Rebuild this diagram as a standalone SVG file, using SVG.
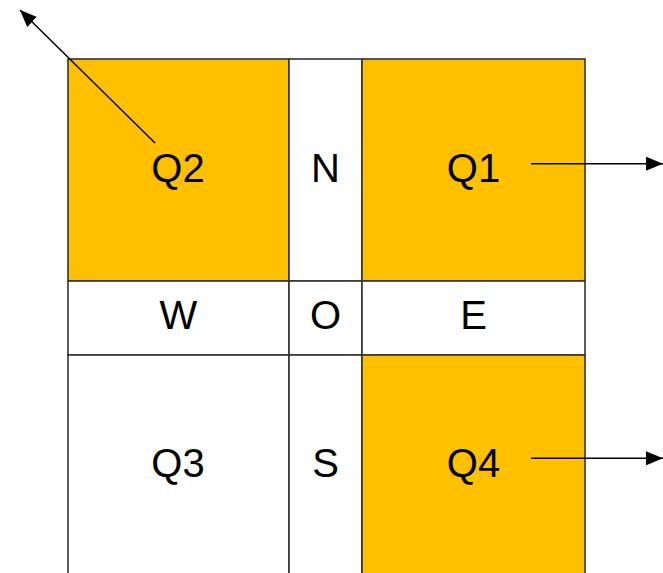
<svg xmlns="http://www.w3.org/2000/svg" width="663" height="573" viewBox="0 0 663 573">
<style>
.c{stroke:#333;stroke-width:1.6}
.o{fill:#FFC000}
.w{fill:#fff}
.t{font-family:"Liberation Sans",Arial,sans-serif;font-size:40px;fill:#000;text-anchor:middle}
.a{stroke:#000;stroke-width:1.5;fill:none;marker-end:url(#ah)}
</style>
<defs>
<marker id="ah" viewBox="0 0 17 14" refX="17" refY="7" markerWidth="17" markerHeight="14" markerUnits="userSpaceOnUse" orient="auto">
<path d="M0,0 L17,7 L0,14 z" fill="#000"/>
</marker>
</defs>
<rect x="0" y="0" width="663" height="573" fill="#fff"/>
<g id="Q2"><rect class="c o" x="68" y="59" width="221" height="222"/><text class="t" x="178" y="181.5">Q2</text></g>
<g id="N"><rect class="c w" x="289" y="59" width="73" height="222"/><text class="t" x="325.5" y="181.5">N</text></g>
<g id="Q1"><rect class="c o" x="362" y="59" width="223" height="222"/><text class="t" x="473.5" y="181.5">Q1</text></g>
<g id="W"><rect class="c w" x="68" y="281" width="221" height="74"/><text class="t" x="178.5" y="329">W</text></g>
<g id="O"><rect class="c w" x="289" y="281" width="73" height="74"/><text class="t" x="325.5" y="329">O</text></g>
<g id="E"><rect class="c w" x="362" y="281" width="223" height="74"/><text class="t" x="473.5" y="329">E</text></g>
<g id="Q3"><rect class="c w" x="68" y="355" width="221" height="240"/><text class="t" x="178" y="476.5">Q3</text></g>
<g id="S"><rect class="c w" x="289" y="355" width="73" height="240"/><text class="t" x="325.5" y="476.5">S</text></g>
<g id="Q4"><rect class="c o" x="362" y="355" width="223" height="240"/><text class="t" x="473.5" y="476.5">Q4</text></g>
<g id="connectors">
<line class="a" x1="155" y1="143" x2="20" y2="10"/>
<line class="a" x1="531" y1="163.7" x2="663" y2="163.7"/>
<line class="a" x1="531" y1="458.3" x2="663" y2="458.3"/>
</g>
</svg>
